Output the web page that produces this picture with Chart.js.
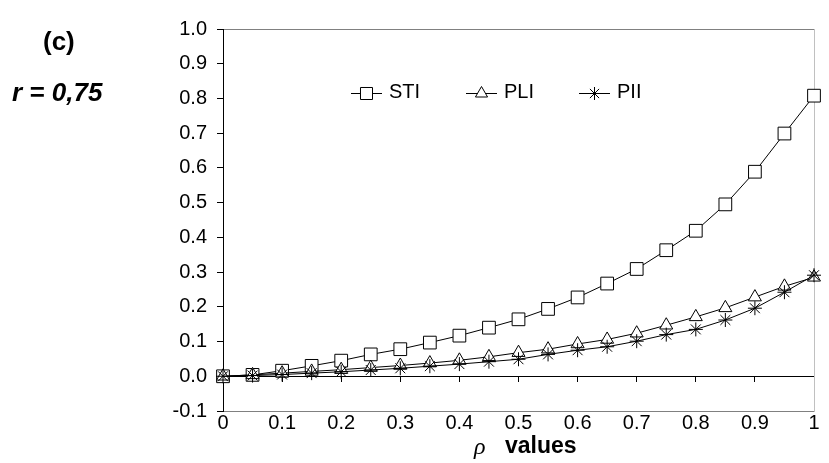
<!DOCTYPE html>
<html>
<head>
<meta charset="utf-8">
<script src="https://cdn.jsdelivr.net/npm/chart.js@4.4.1/dist/chart.umd.min.js"></script>
<style>
  html, body { margin: 0; padding: 0; background: #fff; }
  #wrap { position: relative; width: 829px; height: 463px; overflow: hidden; }
  #wrap canvas { position: absolute; left: 0; top: 0; }
  .note { position: absolute; font-family: "Liberation Sans", Arial, sans-serif; font-weight: bold; color: #000; white-space: nowrap; line-height: 1; }
</style>
</head>
<body>
<div id="wrap">
  <canvas id="rho-chart" width="829" height="463"></canvas>
  <div class="note" style="left:43px; top:28px; font-size:26px;">(c)</div>
  <div class="note" style="left:12px; top:79px; font-size:26px; font-style:italic;">r = 0,75</div>
  <div class="note" style="left:474px; top:434px; font-size:24px; font-family:'Liberation Serif', serif; font-style:italic; font-weight:normal;">&rho;</div>
  <div class="note" style="left:505px; top:434px; font-size:23px;">values</div>
</div>
<script>
(function () {
  "use strict";

  // rho on the horizontal axis, 21 points
  var rhoValues = [0, 0.05, 0.1, 0.15, 0.2, 0.25, 0.3, 0.35, 0.4, 0.45, 0.5,
    0.55, 0.6, 0.65, 0.7, 0.75, 0.8, 0.85, 0.9, 0.95, 1];

  var seriesNames = ["STI", "PLI", "PII"];

  var stiValues = [0, 0.004, 0.016, 0.03, 0.045, 0.063, 0.078, 0.097, 0.117, 0.14, 0.164,
    0.194, 0.227, 0.267, 0.309, 0.363, 0.419, 0.495, 0.589, 0.699, 0.808];
  var pliValues = [0, 0.004, 0.009, 0.014, 0.019, 0.025, 0.031, 0.038, 0.046, 0.056, 0.068,
    0.078, 0.093, 0.106, 0.124, 0.147, 0.171, 0.197, 0.228, 0.259, 0.285];
  var piiValues = [0, 0.002, 0.005, 0.009, 0.013, 0.018, 0.023, 0.029, 0.035, 0.042, 0.049,
    0.063, 0.075, 0.085, 0.101, 0.12, 0.135, 0.162, 0.196, 0.242, 0.291];

  var xTickLabels = ["0", "0.1", "0.2", "0.3", "0.4", "0.5", "0.6", "0.7", "0.8", "0.9", "1"];
  var yTickLabels = ["-0.1", "0.0", "0.1", "0.2", "0.3", "0.4", "0.5", "0.6", "0.7", "0.8", "0.9", "1.0"];

  var markerStyles = ["rect", "triangle", "star"];
  var markerRadius = [9, 7.5, 7];
  // legend item offsets from the plot's left edge
  var legendOffsets = [128, 243, 356];

  function toPoints(values) {
    return values.map(function (v, i) {
      return { x: rhoValues[i], y: v };
    });
  }

  function makeDataset(i, values) {
    return {
      label: seriesNames[i],
      data: toPoints(values),
      borderColor: "#000",
      borderWidth: 1,
      tension: 0,
      fill: false,
      pointStyle: markerStyles[i],
      pointRadius: markerRadius[i],
      pointHoverRadius: markerRadius[i],
      pointBackgroundColor: "#fff",
      pointBorderColor: "#000",
      pointBorderWidth: 1,
      clip: false,
      order: 3 - i,
    };
  }

  var insideLegend = {
    id: "insideLegend",
    afterDraw: function (chart) {
      var ctx = chart.ctx;
      var area = chart.chartArea;
      var y = area.top + 64.5;
      ctx.save();
      ctx.lineWidth = 1;
      ctx.strokeStyle = "#000";
      ctx.font = '20px "Liberation Sans", Arial, sans-serif';
      for (var i = 0; i < seriesNames.length; i++) {
        var x0 = area.left + legendOffsets[i];
        ctx.beginPath();
        ctx.moveTo(x0, y);
        ctx.lineTo(x0 + 31, y);
        ctx.stroke();
        ctx.fillStyle = "#fff";
        Chart.helpers.drawPoint(ctx, {
          pointStyle: markerStyles[i],
          radius: markerRadius[i] - 0.5,
          borderWidth: 1,
          rotation: 0,
        }, x0 + 15.5, y);
        ctx.fillStyle = "#000";
        ctx.textBaseline = "alphabetic";
        ctx.fillText(seriesNames[i], x0 + 38, y + 4.5);
      }
      ctx.restore();
    },
  };

  Chart.defaults.font.family = '"Liberation Sans", Arial, sans-serif';
  Chart.defaults.color = "#000";

  var ctx = document.getElementById("rho-chart").getContext("2d");
  new Chart(ctx, {
    type: "line",
    data: {
      datasets: [
        makeDataset(0, stiValues),
        makeDataset(1, pliValues),
        makeDataset(2, piiValues),
      ],
    },
    plugins: [insideLegend],
    options: {
      responsive: false,
      animation: false,
      devicePixelRatio: 1,
      layout: { padding: { top: 21, right: 7, left: 0, bottom: 0 } },
      plugins: { legend: { display: false }, tooltip: { enabled: false } },
      scales: {
        x: {
          type: "linear",
          position: "bottom",
          min: 0,
          max: 1,
          afterFit: function (s) { s.height = 52; },
          grid: { display: false },
          border: { display: true, color: "#808080", width: 1 },
          ticks: {
            stepSize: 0.1,
            autoSkip: false,
            maxRotation: 0,
            padding: -8,
            font: { size: 20 },
            callback: function (v) { return xTickLabels[Math.round(v * 10)]; },
          },
        },
        xZero: {
          type: "linear",
          axis: "x",
          position: { y: 0 },
          min: 0,
          max: 1,
          grid: { display: true, drawOnChartArea: false, drawTicks: true, tickLength: 5, color: "#000" },
          border: { display: true, color: "#000", width: 1 },
          ticks: { display: false, stepSize: 0.1 },
        },
        xTop: {
          type: "linear",
          axis: "x",
          position: "top",
          min: 0,
          max: 1,
          grid: { display: false },
          border: { display: true, color: "#808080", width: 1 },
          ticks: { display: false },
        },
        y: {
          type: "linear",
          position: "left",
          min: -0.1,
          max: 1.0,
          afterFit: function (s) { s.width = 223; },
          grid: { display: true, drawOnChartArea: false, drawTicks: true, tickLength: 6, color: "#000" },
          border: { display: true, color: "#000", width: 1 },
          ticks: {
            stepSize: 0.1,
            autoSkip: false,
            padding: 10,
            font: { size: 20 },
            callback: function (v) { return yTickLabels[Math.round(v * 10) + 1]; },
          },
        },
        yRight: {
          type: "linear",
          axis: "y",
          position: "right",
          min: -0.1,
          max: 1.0,
          grid: { display: false },
          border: { display: true, color: "#c0c0c0", width: 1 },
          ticks: { display: false },
        },
      },
    },
  });
})();
</script>
</body>
</html>
